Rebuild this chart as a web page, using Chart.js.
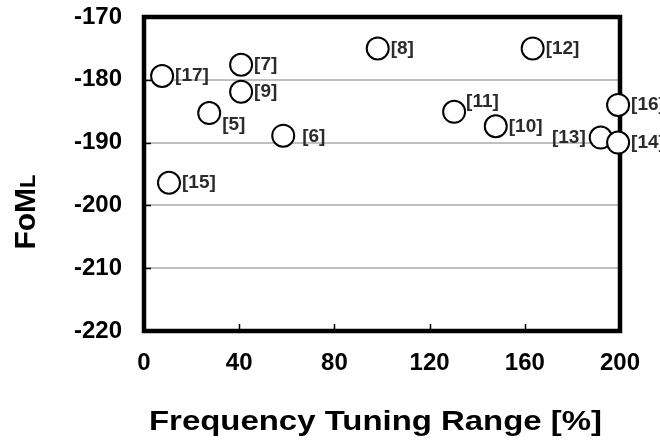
<!DOCTYPE html>
<html><head><meta charset="utf-8">
<script src="https://cdn.jsdelivr.net/npm/chart.js@4"></script>
<style>html,body{margin:0;padding:0;background:#fff;overflow:hidden}</style>
</head><body><canvas id="c" width="660" height="443"></canvas>
<script>
// ---- data ----
const refLabels   = ['[5]','[6]','[7]','[8]','[9]','[10]','[11]','[12]','[13]','[14]','[15]','[16]','[17]'];
const tuningRange = [27.4, 58.5, 40.8, 98.2, 40.8, 147.8, 130.3, 163.3, 191.9, 199.2, 10.5, 199.2, 7.6];
const fomL        = [-185.3, -188.9, -177.6, -175.0, -181.9, -187.4, -185.1, -175.0, -189.2, -190.0, -196.4, -184.0, -179.4];
const labelSide   = ['lower-right','right-far','right','right','right','right','upper-right','right','left','right','right','right','right'];
const xTicks = [0, 40, 80, 120, 160, 200];
const yTicks = [-170, -180, -190, -200, -210, -220];
const xTitle = 'Frequency Tuning Range [%]';
const yTitleMain = 'FoM', yTitleSub = 'L';

const FONT = '"Liberation Sans", Arial, sans-serif';
const sideOffsets = {
  'right':       {dx: 13, dy: 0,  align: 'left'},
  'right-far':   {dx: 19, dy: 1,  align: 'left'},
  'upper-right': {dx: 12, dy: -10, align: 'left'},
  'lower-right': {dx: 13, dy: 12, align: 'left'},
  'left':        {dx: -15, dy: 0, align: 'right'}
};

const points = tuningRange.map((x, i) => ({x: x, y: fomL[i]}));

const framePlugin = {
  id: 'frame',
  beforeDatasetsDraw(chart) {
    const {ctx, chartArea: a, scales} = chart;
    ctx.save();
    ctx.strokeStyle = '#000';
    ctx.lineWidth = 1.5;
    ctx.beginPath();
    xTicks.slice(1, -1).forEach(v => {
      const px = Math.round(scales.x.getPixelForValue(v)) + 0.5;
      ctx.moveTo(px, a.bottom); ctx.lineTo(px, a.bottom - 7);
    });
    yTicks.slice(1, -1).forEach(v => {
      const py = Math.round(scales.y.getPixelForValue(v)) + 0.5;
      ctx.moveTo(a.left, py); ctx.lineTo(a.left + 7, py);
    });
    ctx.stroke();
    ctx.lineWidth = 4.5;
    ctx.lineJoin = 'miter';
    ctx.strokeRect(a.left, a.top, a.right - a.left, a.bottom - a.top);
    ctx.restore();
  },
  afterDatasetsDraw(chart) {
    const {ctx} = chart;
    const meta = chart.getDatasetMeta(0);
    ctx.save();
    ctx.fillStyle = '#2b2b2b';
    ctx.font = 'bold 19px ' + FONT;
    ctx.textBaseline = 'middle';
    meta.data.forEach((el, i) => {
      const o = sideOffsets[labelSide[i]];
      ctx.textAlign = o.align;
      ctx.fillText(refLabels[i], el.x + o.dx, el.y + o.dy);
    });
    ctx.restore();
  },
  afterDraw(chart) {
    const {ctx} = chart;
    ctx.save();
    ctx.fillStyle = '#000';
    // x title (glyphs drawn wide, as in the reference)
    ctx.font = 'bold 28px ' + FONT;
    const w = ctx.measureText(xTitle).width;
    const sx = 453 / w;
    ctx.save();
    ctx.translate(149, 430);
    ctx.scale(sx, 1);
    ctx.textAlign = 'left';
    ctx.textBaseline = 'alphabetic';
    ctx.fillText(xTitle, 0, 0);
    ctx.restore();
    // y title
    ctx.translate(24, 212);
    ctx.rotate(-Math.PI / 2);
    ctx.font = 'bold 30px ' + FONT;
    const w1 = ctx.measureText(yTitleMain).width;
    ctx.font = 'bold 22px ' + FONT;
    const w2 = ctx.measureText(yTitleSub).width;
    const start = -(w1 + w2) / 2;
    ctx.textBaseline = 'alphabetic';
    ctx.font = 'bold 30px ' + FONT;
    ctx.fillText(yTitleMain, start, 11);
    ctx.font = 'bold 22px ' + FONT;
    ctx.fillText(yTitleSub, start + w1, 11);
    ctx.restore();
  }
};

new Chart(document.getElementById('c'), {
  type: 'scatter',
  data: {
    datasets: [{
      data: points,
      pointRadius: 11,
      pointHoverRadius: 11,
      pointBackgroundColor: '#fff',
      pointBorderColor: '#000',
      pointBorderWidth: 2,
      clip: false
    }]
  },
  options: {
    responsive: false,
    animation: false,
    devicePixelRatio: 1,
    layout: {padding: {top: 17, right: 40, left: 0, bottom: 0}},
    plugins: {legend: {display: false}, tooltip: {enabled: false}},
    events: [],
    scales: {
      x: {
        type: 'linear', min: 0, max: 200,
        afterBuildTicks: s => { s.ticks = xTicks.map(v => ({value: v})); },
        afterFit: s => { s.height = 443 - 331; s.paddingLeft = 0; s.paddingRight = 0; },
        grid: {display: false},
        border: {display: false},
        ticks: {font: {family: FONT, size: 24, weight: 'bold'}, color: '#000', padding: 10, maxRotation: 0}
      },
      y: {
        type: 'linear', min: -220, max: -170,
        afterBuildTicks: s => { s.ticks = yTicks.map(v => ({value: v})); },
        afterFit: s => { s.width = 144; s.paddingTop = 0; s.paddingBottom = 0; },
        grid: {
          drawTicks: false,
          color: c => (c.tick && (c.tick.value === -170 || c.tick.value === -220)) ? 'rgba(0,0,0,0)' : '#bfbfbf',
          lineWidth: 2
        },
        border: {display: false},
        ticks: {font: {family: FONT, size: 24, weight: 'bold'}, color: '#000', padding: 22}
      }
    }
  },
  plugins: [framePlugin]
});
</script>
</body></html>
